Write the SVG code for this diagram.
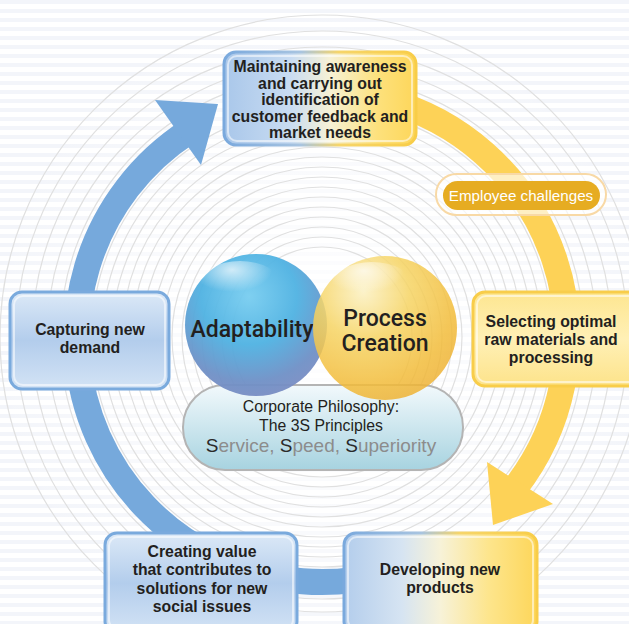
<svg xmlns="http://www.w3.org/2000/svg" width="629" height="624" viewBox="0 0 629 624">
<defs>
<pattern id="stripes" width="10" height="9" patternUnits="userSpaceOnUse">
<rect width="10" height="9" fill="#ffffff"/>
<rect y="0" width="10" height="4" fill="#f3f5fa"/>
</pattern>
<radialGradient id="centerFade" cx="322" cy="337" r="330" gradientUnits="userSpaceOnUse">
<stop offset="0" stop-color="#ffffff" stop-opacity="0.9"/>
<stop offset="0.6" stop-color="#ffffff" stop-opacity="0.5"/>
<stop offset="1" stop-color="#ffffff" stop-opacity="0"/>
</radialGradient>
<linearGradient id="blueFill" x1="0" y1="0" x2="0" y2="1">
<stop offset="0" stop-color="#dce9f7"/>
<stop offset="0.5" stop-color="#b3cdec"/>
<stop offset="1" stop-color="#d3e3f5"/>
</linearGradient>
<linearGradient id="yellowFill" x1="0" y1="0" x2="0" y2="1">
<stop offset="0" stop-color="#fde690"/>
<stop offset="0.5" stop-color="#fff0b6"/>
<stop offset="1" stop-color="#fde38a"/>
</linearGradient>
<linearGradient id="mixFill" x1="0" y1="0" x2="1" y2="0">
<stop offset="0" stop-color="#a9c7ea"/>
<stop offset="0.35" stop-color="#c9dcf2"/>
<stop offset="0.55" stop-color="#f6f1d6"/>
<stop offset="0.8" stop-color="#fde17c"/>
<stop offset="1" stop-color="#fdd65a"/>
</linearGradient>
<linearGradient id="mixStroke" x1="0" y1="0" x2="1" y2="0">
<stop offset="0" stop-color="#7aa9dd"/>
<stop offset="0.4" stop-color="#a8c4e0"/>
<stop offset="0.6" stop-color="#f6d56a"/>
<stop offset="1" stop-color="#f8cd48"/>
</linearGradient>
<linearGradient id="mixFill2" x1="0" y1="0" x2="1" y2="0">
<stop offset="0" stop-color="#b3cdec"/>
<stop offset="0.3" stop-color="#d6e4f2"/>
<stop offset="0.5" stop-color="#f7f2d8"/>
<stop offset="0.75" stop-color="#fde58c"/>
<stop offset="1" stop-color="#fdd65a"/>
</linearGradient>
<radialGradient id="blueBall" cx="0.45" cy="0.3" r="0.75">
<stop offset="0" stop-color="#78cdf0"/>
<stop offset="0.45" stop-color="#4fb2e2"/>
<stop offset="0.8" stop-color="#6f90c6"/>
<stop offset="1" stop-color="#7d8cc2"/>
</radialGradient>
<radialGradient id="yellowBall" cx="0.35" cy="0.25" r="0.8">
<stop offset="0" stop-color="#fbf0c0"/>
<stop offset="0.4" stop-color="#f6d463"/>
<stop offset="0.8" stop-color="#f2bc3a"/>
<stop offset="1" stop-color="#eeb235"/>
</radialGradient>
<radialGradient id="gloss" cx="0.4" cy="0.2" r="0.5">
<stop offset="0" stop-color="#ffffff" stop-opacity="0.7"/>
<stop offset="1" stop-color="#ffffff" stop-opacity="0"/>
</radialGradient>
<linearGradient id="pillFill" x1="0" y1="0" x2="0" y2="1">
<stop offset="0" stop-color="#f2f9fc"/>
<stop offset="1" stop-color="#a7d3e0"/>
</linearGradient>
<style>
.ring{fill:none;stroke:#e0e0e0;stroke-width:1.2}
.arcB{fill:none;stroke:#76a9dc;stroke-width:26}
.arcY{fill:none;stroke:#fdd257;stroke-width:26}
.nodeB{fill:url(#blueFill);stroke:#7aaadd;stroke-width:3}
.nodeY{fill:url(#yellowFill);stroke:#f8cd4a;stroke-width:3}
.inner{fill:none;stroke:#ffffff;stroke-opacity:0.55;stroke-width:2}
.t{font-family:"Liberation Sans",Arial,sans-serif;font-weight:bold;font-size:15.8px;fill:#231f20;text-anchor:middle}
.big{font-family:Roboto,"Liberation Sans",Arial,sans-serif;font-weight:500;font-size:23px;fill:#231f20;text-anchor:middle}
.ph{font-family:"Liberation Sans",Arial,sans-serif;font-size:15.8px;fill:#231f20;text-anchor:middle}
.sv{font-family:"Liberation Sans",Arial,sans-serif;font-size:19px;fill:#8c8c8c;text-anchor:middle}
.cap{fill:#2a2a2a}
</style>
</defs>

<g id="background">
<rect width="629" height="624" fill="url(#stripes)"/>
<rect width="629" height="624" fill="url(#centerFade)"/>
<circle class="ring" cx="322" cy="337" r="90"/>
<circle class="ring" cx="322" cy="337" r="100"/>
<circle class="ring" cx="322" cy="337" r="110"/>
<circle class="ring" cx="322" cy="337" r="120"/>
<circle class="ring" cx="322" cy="337" r="130"/>
<circle class="ring" cx="322" cy="337" r="140"/>
<circle class="ring" cx="322" cy="337" r="150"/>
<circle class="ring" cx="322" cy="337" r="160"/>
<circle class="ring" cx="322" cy="337" r="170"/>
<circle class="ring" cx="322" cy="337" r="180"/>
<circle class="ring" cx="322" cy="337" r="190"/>
<circle class="ring" cx="322" cy="337" r="200"/>
<circle class="ring" cx="322" cy="337" r="210"/>
<circle class="ring" cx="322" cy="337" r="220"/>
<circle class="ring" cx="322" cy="337" r="230"/>
<circle class="ring" cx="322" cy="337" r="262"/>
<circle class="ring" cx="322" cy="337" r="275"/>
<circle class="ring" cx="322" cy="337" r="290"/>
<circle class="ring" cx="322" cy="337" r="306"/>
<circle class="ring" cx="322" cy="337" r="322"/>
</g>

<g id="connectors">
<path class="arcB" d="M385.4,573.7 A245,245 0 0 1 188.6,131.5"/>
<polygon points="155,100 218,104 201,165" fill="#76a9dc"/>
<path class="arcY" d="M385.4,100.3 A245,245 0 0 1 515.1,487.8"/>
<polygon points="487,462 553,504 493,525" fill="#fdd257"/>
</g>

<g id="employee-challenges">
<rect x="436" y="174" width="170" height="41" rx="20.5" fill="#ffffff" fill-opacity="0.65" stroke="#f8d9a6" stroke-width="2"/>
<rect x="443" y="181" width="157" height="29" rx="14.5" fill="#e6ac22"/>
<text x="521" y="201" font-family="'Liberation Sans',Arial,sans-serif" font-size="15.2" fill="#ffffff" text-anchor="middle">Employee challenges</text>
</g>

<g id="philosophy">
<rect x="183" y="385" width="280" height="85" rx="42" fill="url(#pillFill)" stroke="#b4b4b4" stroke-width="2"/>
</g>

<g id="adaptability">
<circle cx="256" cy="325" r="71" fill="url(#blueBall)" opacity="0.95"/>
<ellipse cx="240" cy="283" rx="40" ry="22" fill="url(#gloss)"/>
<text class="big" x="252" y="337">Adaptability</text>
</g>

<g id="process-creation">
<circle cx="385" cy="328" r="72" fill="url(#yellowBall)" opacity="0.85"/>
<ellipse cx="372" cy="284" rx="40" ry="22" fill="url(#gloss)"/>
<text class="big" x="385" y="326">Process</text>
<text class="big" x="385" y="351">Creation</text>
</g>

<g id="philosophy-text">
<text class="ph" x="321" y="412">Corporate Philosophy:</text>
<text class="ph" x="321" y="431">The 3S Principles</text>
<text class="sv" x="321" y="452"><tspan class="cap">S</tspan>ervice, <tspan class="cap">S</tspan>peed, <tspan class="cap">S</tspan>uperiority</text>
</g>

<g id="node-top">
<rect x="224" y="52" width="192" height="93" rx="12" fill="url(#mixFill)" stroke="url(#mixStroke)" stroke-width="3"/>
<rect x="228" y="56" width="184" height="85" rx="9" class="inner"/>
<text class="t" x="320" y="72">Maintaining awareness</text>
<text class="t" x="320" y="88.5">and carrying out</text>
<text class="t" x="320" y="105">identification of</text>
<text class="t" x="320" y="121.5">customer feedback and</text>
<text class="t" x="320" y="138">market needs</text>
</g>

<g id="node-right">
<rect x="473" y="292" width="170" height="94" rx="12" class="nodeY"/>
<rect x="477" y="296" width="162" height="86" rx="9" class="inner"/>
<text class="t" x="551" y="327">Selecting optimal</text>
<text class="t" x="551" y="345">raw materials and</text>
<text class="t" x="551" y="363">processing</text>
</g>

<g id="node-left">
<rect x="10" y="292" width="159" height="97" rx="12" class="nodeB"/>
<rect x="14" y="296" width="151" height="89" rx="9" class="inner"/>
<text class="t" x="90" y="335">Capturing new</text>
<text class="t" x="90" y="353">demand</text>
</g>

<g id="node-bottom-left">
<rect x="105" y="533" width="192" height="100" rx="12" class="nodeB"/>
<rect x="109" y="537" width="184" height="92" rx="9" class="inner"/>
<text class="t" x="202" y="557">Creating value</text>
<text class="t" x="202" y="575">that contributes to</text>
<text class="t" x="202" y="593.5">solutions for new</text>
<text class="t" x="202" y="612">social issues</text>
</g>

<g id="node-bottom-right">
<rect x="344" y="533" width="193" height="100" rx="12" fill="url(#mixFill2)" stroke="url(#mixStroke)" stroke-width="3"/>
<rect x="348" y="537" width="185" height="92" rx="9" class="inner"/>
<text class="t" x="440" y="575">Developing new</text>
<text class="t" x="440" y="593">products</text>
</g>
</svg>
